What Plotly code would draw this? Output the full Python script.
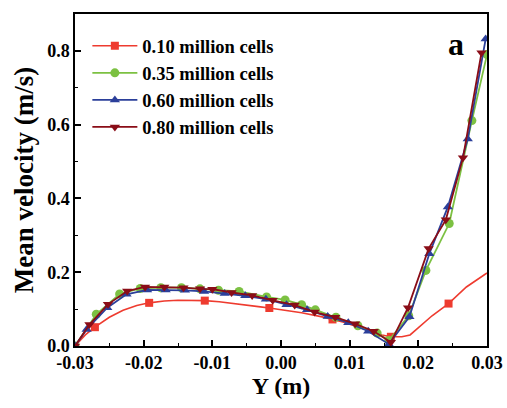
import plotly.graph_objects as go

# ---------------- data ----------------
series_names = ["0.10 million cells", "0.35 million cells", "0.60 million cells", "0.80 million cells"]

# 0.10 million cells (smooth line, sparse markers)
red_x = [-0.0300, -0.0285, -0.0271, -0.0250, -0.0230, -0.0210, -0.0192, -0.0170, -0.0150, -0.0130,
         -0.0111, -0.0090, -0.0070, -0.0050, -0.0030, -0.0017, 0.0000, 0.0030, 0.0060, 0.0075,
         0.0090, 0.0120, 0.0147, 0.0160, 0.0176, 0.0188, 0.0202, 0.0220, 0.0244, 0.0270, 0.0300]
red_y = [0.000, 0.030, 0.051, 0.078, 0.097, 0.110, 0.117, 0.122, 0.124, 0.124,
         0.123, 0.120, 0.116, 0.111, 0.106, 0.103, 0.099, 0.090, 0.079, 0.072,
         0.065, 0.047, 0.030, 0.025, 0.025, 0.030, 0.052, 0.082, 0.115, 0.160, 0.198]
red_marker_idx = [2, 6, 10, 15, 19, 23, 28]

# 0.35 million cells
green_x = [-0.0300, -0.0269, -0.0235, -0.0205, -0.0175, -0.0145, -0.0118, -0.0091, -0.0061, -0.0021,
           0.0006, 0.0030, 0.0050, 0.0080, 0.0112, 0.0140, 0.0157, 0.0186, 0.0211, 0.0245, 0.0278, 0.0300]
green_y = [0.000, 0.086, 0.141, 0.156, 0.158, 0.158, 0.155, 0.151, 0.148, 0.133,
           0.125, 0.112, 0.098, 0.078, 0.055, 0.035, 0.015, 0.082, 0.205, 0.332, 0.611, 0.790]

# 0.60 million cells
blue_x = [-0.0300, -0.0283, -0.0253, -0.0225, -0.0195, -0.0168, -0.0140, -0.0112, -0.0082, -0.0052,
          -0.0022, 0.0008, 0.0038, 0.0068, 0.0098, 0.0127, 0.0157, 0.0187, 0.0216, 0.0243, 0.0272, 0.0298]
blue_y = [0.000, 0.045, 0.104, 0.140, 0.152, 0.152, 0.151, 0.148, 0.142, 0.136,
          0.127, 0.112, 0.098, 0.080, 0.063, 0.040, 0.005, 0.079, 0.250, 0.377, 0.561, 0.832]

# 0.80 million cells
dred_x = [-0.0300, -0.0279, -0.0252, -0.0224, -0.0198, -0.0170, -0.0142, -0.0118, -0.0100, -0.0072,
          -0.0042, -0.0012, 0.0020, 0.0049, 0.0079, 0.0108, 0.0135, 0.0160, 0.0185, 0.0215, 0.0240, 0.0265, 0.0292]
dred_y = [0.000, 0.058, 0.113, 0.149, 0.160, 0.160, 0.158, 0.155, 0.154, 0.145,
          0.137, 0.124, 0.111, 0.092, 0.078, 0.060, 0.040, 0.010, 0.104, 0.264, 0.342, 0.510, 0.795]

x_tickvals = [-0.03, -0.02, -0.01, 0.00, 0.01, 0.02, 0.03]
x_ticktext = ["-0.03", "-0.02", "-0.01", "0.00", "0.01", "0.02", "0.03"]
y_tickvals = [0.0, 0.2, 0.4, 0.6, 0.8]
y_ticktext = ["0.0", "0.2", "0.4", "0.6", "0.8"]

# ---------------- style ----------------
RED = "#ee3b2f"
GREEN = "#7cc142"
BLUE = "#2b3f9a"
DRED = "#8a0d17"
FONT = "Liberation Serif"

fig = go.Figure()

fig.add_trace(go.Scatter(x=red_x, y=red_y, mode="lines", line=dict(color=RED, width=1.6),
                         showlegend=False, hoverinfo="skip"))
fig.add_trace(go.Scatter(x=[red_x[i] for i in red_marker_idx], y=[red_y[i] for i in red_marker_idx],
                         mode="markers", marker=dict(symbol="square", size=8, color=RED),
                         showlegend=False))

styles = [
    (RED, "square"),
    (GREEN, "circle"),
    (BLUE, "triangle-up"),
    (DRED, "triangle-down"),
]

data = [(None, None), (green_x, green_y), (blue_x, blue_y), (dred_x, dred_y)]

for k, (name, (col, sym), (xs, ys)) in enumerate(zip(series_names, styles, data)):
    label = f"<b>{name}</b>"
    if xs is None:
        fig.add_trace(go.Scatter(x=[None], y=[None], mode="lines+markers", name=label,
                                 legendgroup=f"g{k}",
                                 line=dict(color=col, width=1.6),
                                 marker=dict(symbol=sym, size=8, color=col)))
    else:
        fig.add_trace(go.Scatter(x=xs, y=ys, mode="lines+markers", name=label,
                                 legendgroup=f"g{k}",
                                 line=dict(color=col, width=1.8),
                                 marker=dict(symbol=sym, size=9, color=col)))

axis_common = dict(
    showgrid=False, zeroline=False, showline=True, linecolor="black", linewidth=1.5,
    mirror=True, ticks="inside", tickcolor="black", tickwidth=1.5, ticklen=6,
    tickfont=dict(family=FONT, size=18, color="black"), automargin=False,
)

fig.update_xaxes(**axis_common, range=[-0.03, 0.03], tickvals=x_tickvals,
                 ticktext=[f"<b>{t}</b>" for t in x_ticktext],
                 minor=dict(ticks="inside", dtick=0.005, tick0=-0.03, ticklen=3, tickwidth=1.2, tickcolor="black"),
                 title=dict(text="<b>Y (m)</b>", font=dict(family=FONT, size=24, color="black"), standoff=5))
fig.update_yaxes(**axis_common, range=[0, 0.9], tickvals=y_tickvals,
                 ticktext=[f"<b>{t}</b>" for t in y_ticktext],
                 minor=dict(ticks="inside", dtick=0.1, tick0=0, ticklen=3, tickwidth=1.2, tickcolor="black"),
                 title=dict(text="<b>Mean velocity (m/s)</b>", font=dict(family=FONT, size=27, color="black"), standoff=6))

fig.update_layout(
    width=507, height=408,
    margin=dict(l=75, r=20, t=14, b=62, autoexpand=False),
    paper_bgcolor="white", plot_bgcolor="white",
    font=dict(family=FONT, color="black"),
    legend=dict(x=0.03, y=0.96, xanchor="left", yanchor="top",
                bgcolor="rgba(0,0,0,0)", font=dict(family=FONT, size=18.5, color="black"),
                itemwidth=45, tracegroupgap=0),
    annotations=[dict(text="<b>a</b>", x=0.925, y=0.97, xref="paper", yref="paper",
                      xanchor="center", yanchor="top",
                      showarrow=False, font=dict(family=FONT, size=32, color="black"))],
)

fig.write_html("out.html")
